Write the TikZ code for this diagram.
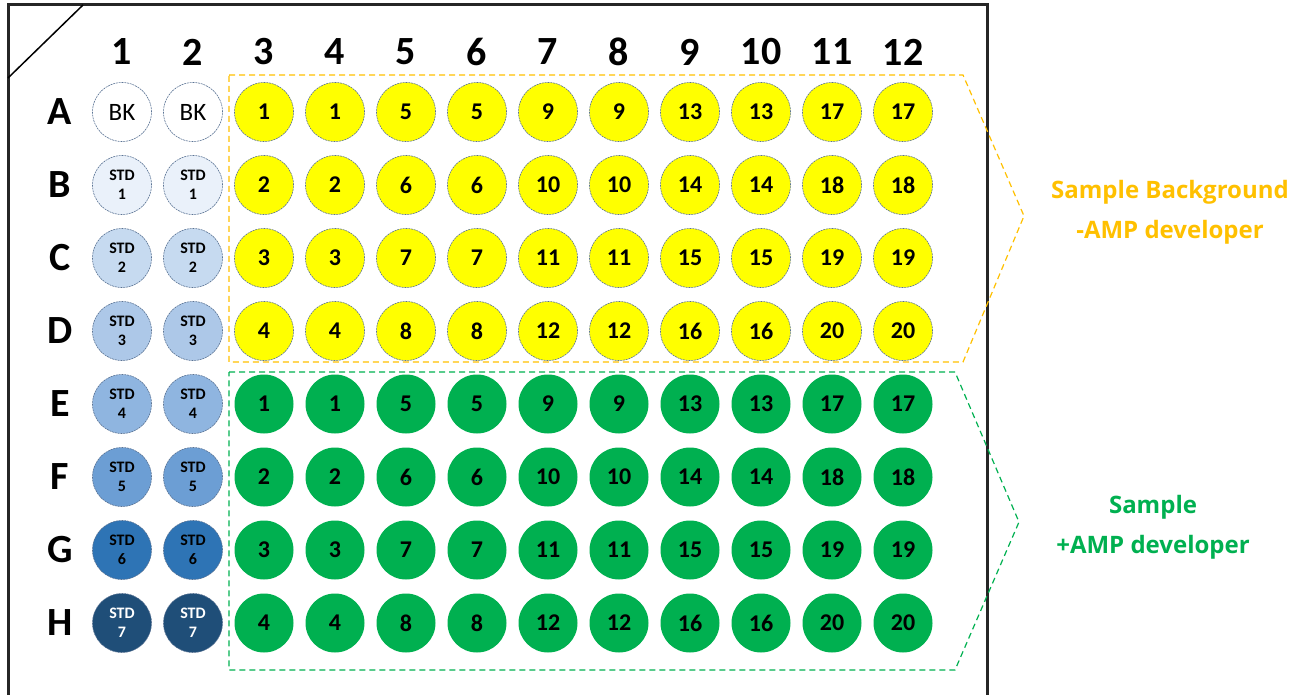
\documentclass[tikz,border=0pt]{standalone}
\usepackage{fontspec}
\setmainfont{Carlito}
\newfontfamily\notefont{Open Sans}
\usepackage{xcolor}
\usepackage{tikz}
\definecolor{wellrim}{HTML}{5A7394}
\definecolor{sampyel}{HTML}{FFFF00}
\definecolor{sampgrn}{HTML}{00B050}
\definecolor{bgorange}{HTML}{FFC000}
\definecolor{stdA}{HTML}{EAF1FA}
\definecolor{stdB}{HTML}{C6DAF0}
\definecolor{stdC}{HTML}{ADC8E8}
\definecolor{stdD}{HTML}{8FB5E0}
\definecolor{stdE}{HTML}{6C9ED4}
\definecolor{stdF}{HTML}{2E74B5}
\definecolor{stdG}{HTML}{1F4E78}

\begin{document}
\begin{tikzpicture}[x=1pt, y=-1pt]
    \tikzset{well/.style={circle, minimum size=59pt, inner sep=0pt, text=black},
             rim/.style={draw=wellrim, line width=0.6pt, dash pattern=on 2pt off 0.8pt},
             BK/.style={well, rim, fill=white, font=\fontsize{25}{25}\selectfont},
             STD/.style={well, rim, align=center, font=\bfseries\fontsize{16}{19}\selectfont},
             Y/.style={well, rim, fill=sampyel, font=\bfseries\fontsize{24}{24}\selectfont},
             G/.style={well, fill=sampgrn, font=\bfseries\fontsize{24}{24}\selectfont},
             hdr/.style={font=\bfseries\fontsize{40}{40}\selectfont},
             note/.style={font=\notefont\bfseries\fontsize{24}{40}\selectfont, align=center}}
    \useasboundingbox (0,0) rectangle (1306,695);
    \clip (0,0) rectangle (1306,695);
    % plate frame
    \draw[line width=3pt, black!85] (8,720) -- (8,5) -- (987,5) -- (987,720);
    \draw[line width=1.5pt] (8,78) -- (83,5);
    % column and row labels
    \foreach \c in {1,...,12}
      \node[hdr] (col-\c) at ({122+71*(\c-1)},52) {\c};
    \foreach \r [count=\i] in {A,...,H}
      \node[hdr] (row-\r) at (60,{112+73*(\i-1)}) {\r};
    % blanks and standards
    \foreach \c in {1,2}{
      \node[BK] (w-A-\c) at (col-\c |- row-A) {BK};
      \foreach \r/\k/\fc/\tc in {B/1/stdA/black, C/2/stdB/black, D/3/stdC/black,
                                E/4/stdD/black, F/5/stdE/black, G/6/stdF/black, H/7/stdG/white}
        \node[STD, fill=\fc, text=\tc] (w-\r-\c) at (col-\c |- row-\r) {STD\\\k};
    }
    % samples, no developer
    \foreach \r [count=\i] in {A,B,C,D}
      \foreach \c in {3,...,12}{
        \pgfmathtruncatemacro{\n}{4*int((\c-3)/2)+\i}
        \node[Y] (w-\r-\c) at (col-\c |- row-\r) {\n};
      }
    % samples, with developer
    \foreach \r [count=\i] in {E,F,G,H}
      \foreach \c in {3,...,12}{
        \pgfmathtruncatemacro{\n}{4*int((\c-3)/2)+\i}
        \node[G] (w-\r-\c) at (col-\c |- row-\r) {\n};
      }
    % groups
    \draw[bgorange, line width=1.2pt, dash pattern=on 6pt off 4pt]
      (229,75) -- (963,75) -- (1024,216) -- (963,362) -- (229,362) -- cycle;
    \draw[sampgrn, line width=1.2pt, dash pattern=on 6pt off 4pt]
      (229,372) -- (955,372) -- (1019,522) -- (955,670) -- (229,670) -- cycle;
    \node[note, text=bgorange] (bg-note) at (1170,212) {Sample Background\\-AMP developer};
    \node[note, text=sampgrn] (dev-note) at (1153,527) {Sample\\+AMP developer};
\end{tikzpicture}
\end{document}
